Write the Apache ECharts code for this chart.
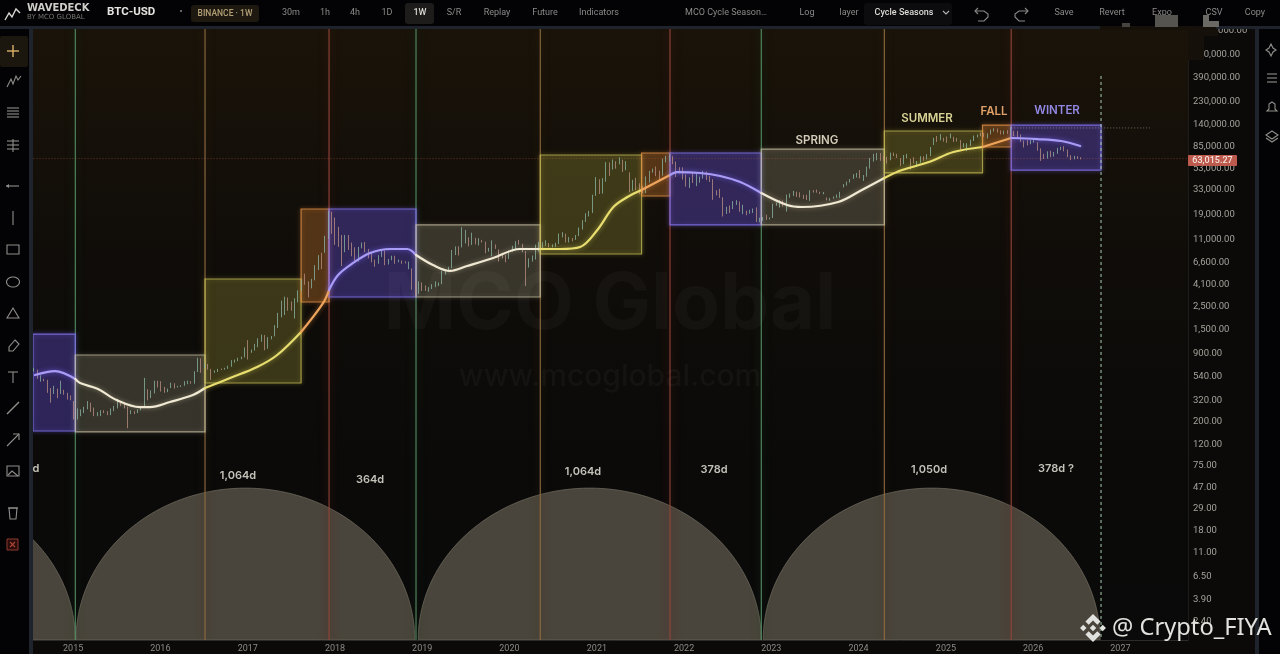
<!DOCTYPE html>
<html><head><meta charset="utf-8">
<style>html,body{margin:0;padding:0;background:#0b0a09}#c{width:1280px;height:654px}</style>
<script src="https://cdn.jsdelivr.net/npm/echarts@6/dist/echarts.min.js"></script>
</head><body><div id="c"></div>
<script>
// ---- candles: [close, low, high], one row per two weeks, starting on 2014-07-21
const candleStart = '2014-07-21', candleStepDays = 14;
const y2014 = [[585,575,625],[505,490,600],[510,460,530],[475,465,490],[395,360,480],[360,290,400],[390,350,420],[365,320,395],[375,350,470],[350,345,385],[320,310,360],[315,305,340]];
const y2015 = [[225,200,300],[225,200,255],[235,215,250],[255,230,265],[285,250,300],[245,235,290],[225,215,260],[225,215,235],[240,215,245],[235,230,245],[225,220,240],[245,220,255],[255,240,270],[290,255,315],[285,270,295],[265,255,285],[230,165,265],[240,225,245],[232,225,240],[245,230,250],[265,245,270],[375,260,500],[325,305,390],[360,320,380],[435,355,470],[430,405,470]];
const y2016 = [[380,370,465],[375,360,410],[375,365,395],[440,400,450],[415,395,445],[415,405,420],[420,410,425],[450,420,465],[460,435,470],[445,440,465],[575,440,580],[670,570,780],[660,560,770],[665,620,680],[605,600,680],[570,480,610],[580,560,590],[605,570,610],[600,595,615],[615,600,625],[650,610,655],[710,640,740],[730,700,750],[770,725,780],[790,755,800],[960,785,980]];
const y2017 = [[820,750,1150],[920,870,935],[1000,915,1060],[1180,985,1200],[1230,1110,1300],[960,920,1290],[1200,950,1230],[1250,1170,1260],[1550,1250,1600],[2050,1500,2100],[2050,1900,2750],[2650,2000,3000],[2450,2200,2950],[2250,2200,2700],[2750,1850,2900],[3400,2650,3450],[4350,3400,4400],[4100,3900,4980],[3700,2950,4200],[4400,3600,4450],[5800,4300,6000],[7400,5400,7500],[5900,5500,7900],[11300,7900,11500],[19000,10700,19800],[13800,12000,19500]];
const y2018 = [[11500,9400,17200],[11100,9000,14000],[8100,5900,11700],[10300,8000,11700],[9500,8400,11700],[8500,7300,9900],[6900,6500,8900],[8900,6500,9000],[9300,8700,9900],[8500,8000,10000],[7500,7000,8600],[6700,6400,7800],[6200,5800,6800],[7400,6200,7500],[8200,7200,8500],[6300,6000,8300],[6700,6100,6900],[7300,6700,7400],[6500,6200,7400],[6600,6400,6800],[6450,6200,6650],[6350,6250,6550],[6400,5500,6500],[3800,3500,5600],[3200,3100,4200],[3700,3200,4200]];
const y2019 = [[3650,3400,4100],[3550,3400,3850],[3650,3350,3700],[3850,3550,3950],[3900,3700,4200],[4000,3800,4100],[5050,3950,5300],[5250,4900,5450],[5700,5150,5800],[8200,5650,8400],[8750,7500,9100],[8700,7450,9100],[11000,8900,13900],[11400,9700,13100],[9500,9100,11100],[11300,9400,12300],[10300,9500,11000],[10400,9300,10900],[10050,9900,10500],[8200,7800,10100],[8300,8100,8800],[9250,7300,10400],[8750,8600,9500],[7400,6500,8500],[7300,7000,7800],[7250,6400,7500]];
const y2020 = [[8200,6900,8300],[8600,8100,9200],[9900,8500,10200],[9700,9450,10500],[8050,8000,9650],[5350,3800,8200],[6750,5700,7000],[7100,6500,7450],[8900,6800,9450],[9300,8100,10050],[9450,8800,10000],[9480,9200,10400],[9150,8900,9800],[9300,8900,9500],[9700,9000,9850],[11900,9600,12100],[11900,11100,12450],[10250,9900,12050],[10950,9900,11200],[10780,10150,10950],[11500,10500,11700],[13750,11400,13800],[15960,13200,16200],[18200,15600,18900],[18800,17600,19900],[26500,19000,28400]];
const y2021 = [[38150,27700,41900],[32200,28900,40000],[39250,29100,41000],[57400,37900,58300],[50900,43000,58000],[59000,49500,61800],[58200,50400,59500],[60100,55500,64800],[49100,47000,61500],[58200,48800,59500],[34700,30000,46600],[35800,31000,39500],[35600,31500,41300],[34200,28800,36600],[29800,29300,34500],[39800,29500,42600],[47000,37300,48100],[49900,46300,50500],[48300,42800,52900],[43200,39600,48400],[60900,43300,63000],[61300,58000,67000],[64900,59400,69000],[58600,55700,66300],[50800,42000,59100],[46700,45500,52100]];
const y2022 = [[41800,39700,52000],[36300,34000,44500],[41400,32900,41700],[38400,36800,45800],[38400,34300,45400],[38800,37100,42400],[46800,40500,48200],[39700,39200,47400],[38500,37600,42900],[31300,25400,40000],[29000,28000,31400],[26600,26500,32400],[21000,17600,26900],[21600,18600,21800],[20800,19000,22400],[23300,20700,24700],[24300,22700,25200],[19800,19500,24500],[21800,18500,22800],[19000,18100,20000],[19100,18700,20400],[20600,19000,21000],[16300,15600,21500],[16400,15500,17100],[17100,16000,17400],[16800,16300,18300]];
const y2023 = [[16950,16500,17200],[22700,17000,23300],[23300,22300,24000],[24300,21400,25200],[22400,21900,25000],[28000,19600,28500],[28200,26600,29200],[30300,27700,30900],[29200,27100,30400],[26900,26700,30000],[26800,25900,28400],[25900,25300,28400],[30500,24800,31400],[30300,29800,31500],[30200,29700,31800],[29100,28900,30300],[29300,28700,30200],[26000,25100,26800],[26100,24900,26500],[26500,26000,27400],[27200,26500,28600],[29500,26600,30300],[35000,33400,35900],[37400,34800,38000],[39900,37200,40200],[43000,40300,44700]];
const y2024 = [[43900,41500,46000],[41700,40700,49000],[42600,38500,43900],[52100,42300,52800],[63100,50500,64000],[68500,59000,70000],[69500,60700,71500],[65700,60000,71300],[63400,59600,67200],[61500,56500,65500],[71300,60800,71900],[69600,66700,72000],[64400,64000,70000],[56700,53500,63800],[68100,55700,68300],[68300,63400,70000],[58700,49500,62700],[57300,57000,65000],[58900,52600,59800],[65700,57500,66500],[62800,60000,66500],[67000,62000,69500],[80300,66800,81500],[97900,85000,99800],[97700,90800,104000],[104500,94300,108300]];
const y2025 = [[98300,91500,99900],[94500,89300,102700],[102600,98800,109500],[96500,91200,102000],[94300,91800,99500],[80700,76600,95000],[82400,81100,88700],[83500,74500,88500],[94000,83500,95700],[104000,92800,104900],[106500,100700,107100],[105500,103000,112000],[105400,102000,110500],[109000,98200,110000],[119000,107500,119500],[119400,114700,123000],[119300,111900,122300],[110000,107300,117500],[116000,107500,116800],[109600,108600,117900],[115000,102000,126200],[114500,103500,116000],[104700,99000,116400],[94200,91000,107500],[89000,80600,94000],[88000,84400,94600]];
const y2026 = [[91000,86500,94800],[93500,89500,97900],[78000,75000,90500],[68800,60000,79000],[66000,62500,70000],[70000,63000,74000],[68000,65000,75000],[72000,66000,73000],[78000,70000,80000],[80000,76000,82000],[76000,74000,83000],[67000,65000,77000],[63500,61000,68000],[65500,62000,67000],[64000,62500,66500],[63015,62000,65000]];
const candleYears = [y2014,y2015,y2016,y2017,y2018,y2019,y2020,y2021,y2022,y2023,y2024,y2025,y2026];

// ---- moving average, split by season
const maWinter0 = [['2014-07-25',533],['2014-10-17',582],['2015-01-10',488]];
const maSpring1 = [['2015-01-10',488],['2015-01-30',447],['2015-04-15',392],['2015-07-02',307],['2015-10-07',263],['2015-11-18',263],['2016-02-10',294],['2016-05-16',343],['2016-07-06',400]];
const maSummer1 = [['2016-07-06',400],['2016-10-19',499],['2017-02-09',636],['2017-05-04',829],['2017-08-12',1377]];
const maFall1   = [['2017-08-12',1377],['2017-11-12',2606],['2017-12-07',3475]];
const maWinter1 = [['2017-12-07',3475],['2018-01-14',4842],['2018-03-18',6310],['2018-05-28',7860],['2018-08-20',8590],['2018-10-30',8590],['2018-12-06',7520]];
const maSpring2 = [['2018-12-06',7520],['2019-02-15',6030],['2019-04-28',5290],['2019-07-08',5900],['2019-10-25',7030],['2020-02-14',8590],['2020-05-09',8590]];
const maSummer2 = [['2020-05-09',8590],['2020-08-01',8590],['2020-10-23',8980],['2021-01-03',13060],['2021-03-11',21680],['2021-05-09',27040],['2021-07-07',31550]];
const maFall2   = [['2021-07-07',31550],['2021-11-03',43850]];
const maWinter2 = [['2021-11-03',43850],['2021-12-03',46880],['2022-03-09',45920],['2022-06-01',42950],['2022-08-24',37600],['2022-11-20',29510]];
const maSpring3 = [['2022-11-20',29510],['2023-03-08',22650],['2023-05-10',21680],['2023-10-08',24210],['2024-01-15',31550],['2024-04-18',41120]];
const maSummer3 = [['2024-04-18',41120],['2024-07-01',48980],['2024-10-22',58480],['2025-02-01',72950],['2025-06-03',81470]];
const maFall3   = [['2025-06-03',81470],['2025-10-01',99310]];
const maWinter3 = [['2025-10-01',99310],['2026-01-18',97050],['2026-04-28',92900],['2026-07-17',83180]];

// ---- season boxes
const boxSeasons = ['winter','spring','summer','fall','winter','spring','summer','fall','winter','spring','summer','fall','winter'];
const boxStarts  = ['2014-07-17','2015-01-10','2016-07-06','2017-08-12','2017-12-07','2018-12-06','2020-05-09','2021-07-07','2021-11-03','2022-11-20','2024-04-18','2025-06-03','2025-10-01'];
const boxEnds    = ['2015-01-10','2016-07-06','2017-08-12','2017-12-07','2018-12-06','2020-05-09','2021-07-07','2021-11-03','2022-11-20','2024-04-18','2025-06-03','2025-10-01','2026-10-12'];
const boxTops    = [1316,829,4430,20750,20750,14590,68230,71300,71300,77800,115900,132100,132100];
const boxBottoms = [155,152,447,2667,2979,2979,7690,27620,14590,14590,45920,81470,48980];

// ---- cycle lines
const cycleDates   = ['2015-01-10','2016-07-06','2017-12-07','2018-12-06','2020-05-09','2021-11-03','2022-11-20','2024-04-18','2025-10-01'];
const cycleSeasons = ['spring0','summer','winter','spring0','summer','winter','spring0','summer','winter'];
const projectionDate = '2026-10-12', projectionTop = 390000;

// ---- domes between cycle lows
const domeStarts = ['2011-02-20','2015-01-13','2018-12-15','2022-11-28'];
const domeEnds   = ['2015-01-10','2018-12-01','2022-11-20','2026-10-08'];
const domePeak   = 44;

// ---- axes
const priceTicks = [1100000,650000,390000,230000,140000,85000,53000,33000,19000,11000,6600,4100,2500,1500,900,540,320,200,120,75,47,29,18,11,6.5,3.9,2.4];
const yearTicks  = [2015,2016,2017,2018,2019,2020,2021,2022,2023,2024,2025,2026,2027];
const lastPrice = 63015.27, athLevel = 124000, athFrom = '2025-10-01', athTo = '2027-05-05';

// ---- builders
const ts = d => Date.UTC(+d.slice(0,4), +d.slice(5,7)-1, +d.slice(8,10));
const seasonColor = {
  winter:{line:'rgba(130,115,235,0.85)',fill:'rgba(90,72,205,0.24)',glow:'rgba(120,100,250,0.75)',vline:'#93453a',vglow:'#5a1a14'},
  spring:{line:'rgba(205,197,168,0.72)',fill:'rgba(215,205,175,0.15)',glow:'rgba(230,220,185,0.45)'},
  spring0:{vline:'#548f63',vglow:'#17391f'},
  summer:{line:'rgba(205,196,85,0.72)',fill:'rgba(215,205,80,0.15)',glow:'rgba(230,220,90,0.55)',vline:'#8f6c40',vglow:'#3f2a12'},
  fall:{line:'rgba(225,145,70,0.8)',fill:'rgba(235,140,50,0.21)',glow:'rgba(245,150,60,0.55)'}
};
const stepMs = candleStepDays*86400000;
let candles=[], prev=null, t=ts(candleStart);
candleYears.forEach(rows=>rows.forEach(r=>{
  const o = prev===null ? r[0] : prev;
  candles.push([t,o,r[0],r[1],r[2]]); prev=r[0]; t+=stepMs;
}));
const maLine = (name,pts,color,glow)=>({
  type:'line',name,data:pts.map(p=>[ts(p[0]),p[1]]),smooth:0.35,symbol:'none',z:8,clip:true,
  lineStyle:{color,width:2.2,shadowBlur:5,shadowColor:glow,cap:'round'},silent:true
});
const W='#a99cf7',S='#efe8d2',Y='#e8de70',O='#eea45c';
const yMin=1.544,yMax=1123600;

const option={
  backgroundColor:'#0b0a09',animation:false,
  grid:{left:33,right:92,top:28,bottom:14,show:true,borderWidth:0,
    backgroundColor:new echarts.graphic.LinearGradient(0,0,0,1,[{offset:0,color:'#1a1309'},{offset:0.35,color:'#100d09'},{offset:0.7,color:'#0b0a09'},{offset:1,color:'#0a0a0a'}])},
  xAxis:{type:'value',min:ts('2014-07-17'),max:ts('2027-10-11'),
    axisLine:{show:true,onZero:false,lineStyle:{color:'#2c2b28'}},axisTick:{show:false},splitLine:{show:false},
    axisLabel:{customValues:yearTicks.map(y=>Date.UTC(y,0,1)),formatter:v=>String(new Date(v).getUTCFullYear()),color:'#8c8a84',fontSize:9,fontFamily:'Roboto',margin:4,hideOverlap:false,showMinLabel:true,showMaxLabel:true}},
  yAxis:{type:'log',logBase:10,min:yMin,max:yMax,position:'right',
    axisLine:{show:true,onZero:false,lineStyle:{color:'#1d1c1a'}},axisTick:{show:false},splitLine:{show:false},
    axisLabel:{customValues:priceTicks,color:'#a4a29b',fontSize:9.5,fontFamily:'Roboto',margin:5,hideOverlap:false,
      rich:{p:{color:'#a4a29b',fontSize:9.5,fontFamily:'Roboto',padding:[4,0,0,0]}},
      formatter:v=>'{p|'+Number(v).toLocaleString('en-US',{minimumFractionDigits:2,maximumFractionDigits:2})+'}'}},
  series:[
    // domes
    {type:'custom',name:'domes',z:1,clip:true,silent:true,
      data:domeStarts.map((d,i)=>[ts(d),ts(domeEnds[i]),domePeak]),encode:{x:[0,1],y:2},
      renderItem(params,api){
        const a=api.coord([api.value(0),domePeak]),b=api.coord([api.value(1),domePeak]);
        const cs=params.coordSys,base=cs.y+cs.height,cx=(a[0]+b[0])/2,rx=(b[0]-a[0])/2,ry=base-a[1];
        const pts=[];for(let k=0;k<=90;k++){const th=Math.PI*(1-k/90);pts.push([cx+rx*Math.cos(th),base-ry*Math.sin(th)]);}
        return {type:'polygon',shape:{points:pts},style:{fill:'#4a453c',stroke:'#6c675b',lineWidth:0.8}};
      }},
    // cycle lines
    {type:'custom',name:'cycles',z:3,clip:true,silent:true,
      data:cycleDates.map((d,i)=>[ts(d),1000,i]),encode:{x:0,y:1},
      renderItem(params,api){
        const p=api.coord([api.value(0),1000]),cs=params.coordSys;
        const s=seasonColor[cycleSeasons[api.value(2)]];
        return {type:'line',shape:{x1:p[0],y1:cs.y,x2:p[0],y2:cs.y+cs.height},
          style:{stroke:s.vline,lineWidth:1.1,shadowBlur:8,shadowColor:s.vglow,blend:'lighter'}};
      }},
    // projection dashed line
    {type:'custom',name:'projection',z:6,clip:true,silent:true,
      data:[[ts(projectionDate),projectionTop]],encode:{x:0,y:1},
      renderItem(params,api){
        const p=api.coord([api.value(0),api.value(1)]),cs=params.coordSys;
        return {type:'line',shape:{x1:p[0],y1:p[1],x2:p[0],y2:cs.y+cs.height},style:{stroke:'#a8d0b0',lineWidth:1,lineDash:[3,3]}};
      }},
    // season boxes
    {type:'custom',name:'seasons',z:4,clip:true,silent:true,
      data:boxStarts.map((d,i)=>[ts(d),ts(boxEnds[i]),boxTops[i],boxBottoms[i],i]),encode:{x:[0,1],y:[2,3]},
      renderItem(params,api){
        const a=api.coord([api.value(0),api.value(2)]),b=api.coord([api.value(1),api.value(3)]);
        const s=seasonColor[boxSeasons[api.value(4)]];
        return {type:'rect',shape:{x:a[0],y:a[1],width:b[0]-a[0],height:b[1]-a[1]},
          style:{fill:s.fill,stroke:s.line,lineWidth:1.2,shadowBlur:4,shadowColor:s.glow}};
      }},
    // price levels
    {type:'custom',name:'levels',z:5,clip:true,silent:true,
      data:[[ts('2014-07-17'),ts('2027-10-11'),lastPrice,0],[ts(athFrom),ts(athTo),athLevel,1]],encode:{x:[0,1],y:2},
      renderItem(params,api){
        const a=api.coord([api.value(0),api.value(2)]),b=api.coord([api.value(1),api.value(2)]),k=api.value(3);
        return {type:'line',shape:{x1:a[0],y1:a[1],x2:b[0],y2:a[1]},
          style:k?{stroke:'rgba(205,195,170,0.5)',lineWidth:1,lineDash:[1,2]}:{stroke:'rgba(190,100,75,0.24)',lineWidth:1,lineDash:[2,1]}};
      }},
    {type:'candlestick',name:'BTC-USD',z:7,clip:true,silent:true,barWidth:1.3,
      data:candles,encode:{x:0,y:[1,2,3,4]},
      itemStyle:{color:'#76a590',color0:'#ad8074',borderColor:'#87b09e',borderColor0:'#b58b80',borderWidth:0.8}},
    maLine('w0',maWinter0,W,seasonColor.winter.glow),maLine('s1',maSpring1,S,seasonColor.spring.glow),
    maLine('u1',maSummer1,Y,seasonColor.summer.glow),maLine('f1',maFall1,O,seasonColor.fall.glow),
    maLine('w1',maWinter1,W,seasonColor.winter.glow),maLine('s2',maSpring2,S,seasonColor.spring.glow),
    maLine('u2',maSummer2,Y,seasonColor.summer.glow),maLine('f2',maFall2,O,seasonColor.fall.glow),
    maLine('w2',maWinter2,W,seasonColor.winter.glow),maLine('s3',maSpring3,S,seasonColor.spring.glow),
    maLine('u3',maSummer3,Y,seasonColor.summer.glow),maLine('f3',maFall3,O,seasonColor.fall.glow),
    maLine('w3',maWinter3,W,seasonColor.winter.glow)
  ],
  graphic:{elements:buildOverlay()}
};

function buildOverlay(){
  const g=[];
  const T=(x,y,text,fill,font,align,extra)=>g.push({type:'text',z:100,silent:true,style:Object.assign({x,y,text,fill,font,align:align||'center',verticalAlign:'middle'},extra||{})});
  const R=(x,y,w,h,fill,r,extra)=>g.push({type:'rect',z:100,silent:true,shape:{x,y,width:w,height:h,r:r||0},style:Object.assign({fill},extra||{})});
  const L=(pts,c,lw)=>g.push({type:'polyline',z:101,silent:true,shape:{points:pts},style:{stroke:c,fill:'none',lineWidth:lw||1.1}});
  const P=(pts,fill,stroke)=>g.push({type:'polygon',z:101,silent:true,shape:{points:pts},style:{fill:fill||'none',stroke:stroke||'none',lineWidth:1.1}});
  const E=(cx,cy,rx,ry,c)=>{const p=[];for(let i=0;i<=40;i++){const a=i/40*2*Math.PI;p.push([cx+rx*Math.cos(a),cy+ry*Math.sin(a)]);}L(p,c);};

  // watermark
  T(610,306,'MCO Global','rgba(255,255,255,0.03)','700 78px Inter');
  T(610,377,'www.mcoglobal.com','rgba(255,255,255,0.035)','500 30px Inter');

  // panels
  R(0,0,1280,26,'#030305');
  R(0,26,1280,3,'#1f242c');
  R(0,29,29,625,'#030305');
  R(29,29,4,625,'#1f242c');
  R(1255,29,4,625,'#1f242c');
  R(1259,29,21,625,'#030305');

  // top bar
  const mut='#8b8a87',f9='400 9px Roboto';
  L([[5,20],[9,13],[12,17],[16,9],[20,13]],'#d8d6d0',1.4);
  T(27,8,'WAVEDECK','#cfcdc8','700 10px "DejaVu Sans"','left');
  T(27,17.5,'BY MCO GLOBAL','#77756f','500 7px "DejaVu Sans"','left');
  T(107,12.5,'BTC-USD','#e4e3df','700 11.5px Roboto','left');
  T(181,12,'•','#8b8a87','400 9px Roboto');
  R(191,5,68,17,'#1d1810',3);
  T(225,13.5,'BINANCE · 1W','#b4a177','500 8.5px Roboto');
  [['30m',291],['1h',325],['4h',355],['1D',387],['S/R',454],['Replay',497],['Future',545],['Indicators',599],['MCO Cycle Season…',726],['Log',807],['layer',849],['Save',1064],['Revert',1112],['Expo',1162],['CSV',1214],['Copy',1255]]
    .forEach(a=>T(a[1],12.5,a[0],mut,f9));
  R(405,3,29,21,'#1d1c1a',3);
  T(420,13,'1W','#dcdbd6','500 9px Roboto');
  R(864,3,88,22,'#0c0c0f',3);
  T(904,13,'Cycle Seasons','#dcdbd6','500 9px Roboto');
  L([[943,11],[946,14],[949,11]],'#b5b4b0');
  L([[978,8],[975,11],[978,14]],mut);L([[975,11],[984,11],[988,14],[988,17],[984,21],[978,21]],mut);
  L([[1025,8],[1028,11],[1025,14]],mut);L([[1028,11],[1019,11],[1015,14],[1015,17],[1019,21],[1025,21]],mut);

  // smudges over the reference's top right corner
  R(1100,26,116,4,'#15100a');
  R(1188,29,30,7,'#15100a');
  R(1188,36,16,24,'#15100a');
  R(1155,15,23,12,'#55544f');
  R(1203,15,6,12,'#6a6964');R(1203,21,16,6,'#6a6964');
  R(1122,23,8,4,'#45443f');

  // left toolbar
  const ic='#8f8e8a',x=13;
  R(0,36,28,31,'#1b160e',2);
  L([[x-6,51],[x+6,51]],'#dcb26a',1.4);L([[x,45],[x,57]],'#dcb26a',1.4);
  L([[7,87],[11,79],[13,84],[16,76],[18,80],[21,76]],ic);
  [108,111,114,117].forEach(y=>L([[x-6,y],[x+6,y]],ic));
  [141,145,149].forEach(y=>L([[x-6,y],[x+6,y]],ic));L([[x,139],[x,152]],ic);
  L([[x-7,186],[x+6,186]],ic);P([[x-7,186],[x-4,184],[x-4,188]],ic);
  L([[x,211],[x,225]],ic);
  g.push({type:'rect',z:101,silent:true,shape:{x:7,y:245,width:12,height:9},style:{fill:'none',stroke:ic,lineWidth:1.1}});
  E(x,282,6.5,5,ic);
  P([[x,308],[x+6,318],[x-6,318]],null,ic);
  P([[x+2,340],[x+6,344],[x,351],[x-4,351],[x-4,347]],null,ic);
  L([[x-5,372],[x+5,372]],ic);L([[x,372],[x,383]],ic);
  L([[7,414],[19,402]],ic,1.5);
  L([[7,446],[19,434]],ic);L([[13,434],[19,434],[19,440]],ic);
  g.push({type:'rect',z:101,silent:true,shape:{x:7,y:466,width:12,height:10},style:{fill:'none',stroke:ic,lineWidth:1.1}});
  L([[8,475],[12,471],[18,476]],ic);
  L([[8,508],[18,508]],ic);P([[9,508],[17,508],[16,519],[10,519]],null,ic);
  g.push({type:'rect',z:101,silent:true,shape:{x:7,y:539,width:11,height:11},style:{fill:'#2a0d0b',stroke:'#8c3a30',lineWidth:1}});
  L([[10,542],[15,547]],'#b0463a');L([[15,542],[10,547]],'#b0463a');

  // right toolbar
  const rx=1272;
  P([[rx-1,44],[rx+1,48],[rx+4,50],[rx+1,52],[rx-1,56],[rx-3,52],[rx-6,50],[rx-3,48]],null,ic);
  [74,78,82].forEach(y=>L([[rx-5,y],[rx+5,y]],ic));
  P([[rx,102],[rx+3,104],[rx+3,109],[rx+5,111],[rx-5,111],[rx-3,109],[rx-3,104]],null,ic);
  P([[rx,131],[rx+6,135],[rx,139],[rx-6,135]],null,ic);L([[rx-6,138],[rx,142],[rx+6,138]],ic);

  // price tag
  R(1188,155,49,11,'#bd5a4e',1);
  T(1212.5,161,'63,015.27','#f4e2dc','500 9px Roboto');

  // annotation text
  const ann='#c4c1b8',fa='600 11px Inter';
  [['1,064d',238,476],['364d',370,480],['1,064d',583,472],['378d',714,470],['1,050d',929,470],['378d ?',1056,469]].forEach(a=>T(a[1],a[2],a[0],ann,fa));
  T(36,469,'d',ann,fa,'center');
  T(817,141,'SPRING','#d2ccb8','600 11.5px Inter');
  T(927,119,'SUMMER','#d8d294','600 11.5px Inter');
  T(994,112,'FALL','#e0a168','600 11.5px Inter');
  T(1057,111,'WINTER','#9288e4','600 11.5px Inter');

  // repost watermark
  const bx=1093,by=628,wm='#e2e2de',s=1.08;
  const scale=pts=>pts.map(p=>[bx+p[0]*s,by+p[1]*s]);
  P(scale([[0,-3],[3,0],[0,3],[-3,0]]),wm);
  P(scale([[-9,-3],[-6,0],[-9,3],[-12,0]]),wm);
  P(scale([[9,-3],[12,0],[9,3],[6,0]]),wm);
  P(scale([[0,-13],[7,-6],[4,-3],[0,-7],[-4,-3],[-7,-6]]),wm);
  P(scale([[0,13],[7,6],[4,3],[0,7],[-4,3],[-7,6]]),wm);
  T(1112,628,'@ Crypto_FIYA',wm,'400 23.7px "Noto Sans"','left',{shadowBlur:3,shadowColor:'#000'});
  return g;
}
const chart=echarts.init(document.getElementById('c'),null,{renderer:'canvas',width:1280,height:654});
chart.setOption(option);
</script></body></html>
